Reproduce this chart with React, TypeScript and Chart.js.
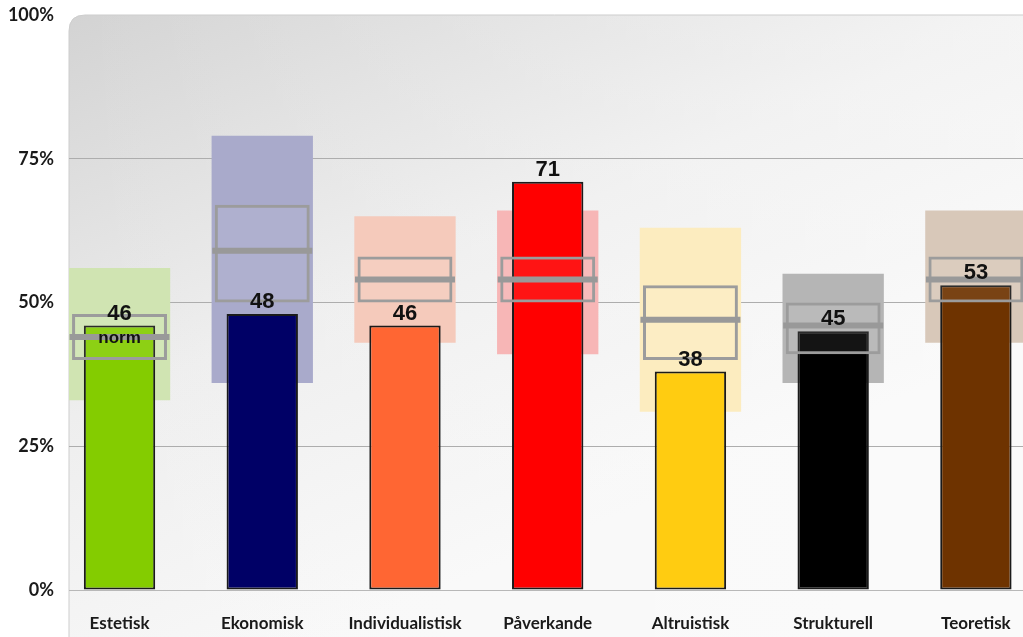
import React, { useEffect, useRef } from "react";
import { Chart, registerables } from "chart.js";

Chart.register(...registerables);

// ---- Data ----
const categories = ["Estetisk", "Ekonomisk", "Individualistisk", "Påverkande", "Altruistisk", "Strukturell", "Teoretisk"];
const scores = [46, 48, 46, 71, 38, 45, 53];
const rangeLow = [33, 36, 43, 41, 31, 36, 43];
const rangeHigh = [56, 79, 65, 66, 63, 55, 66];
const boxLow = [40, 50, 50, 50, 40, 41, 50];
const boxHigh = [48, 67, 58, 58, 53, 50, 58];
const normValues = [44, 59, 54, 54, 47, 46, 54];
const yTickValues = [0, 25, 50, 75, 100];
const normLabel = "norm";

const barColors = ["#84cc00", "#000066", "#ff6633", "#ff0000", "#ffcc11", "#000000", "#6e3300"];
const bandColors = ["#d0e4b2", "#a9aacb", "#f5cabb", "#f7b6b6", "#fcecbf", "#b5b5b5", "#d8c8b9"];

const X_MIN = -0.354;
const X_MAX = 6.33;

const backgroundPlugin = {
  id: "roundedBg",
  beforeDraw(chart: any) {
    const { ctx, chartArea, width, height } = chart;
    const left = chartArea.left;
    const top = chartArea.top;
    const r = 16;
    ctx.save();
    const g = ctx.createLinearGradient(left, top, left + 260, height);
    g.addColorStop(0, "#d3d3d3");
    g.addColorStop(0.55, "#eeeeee");
    g.addColorStop(1, "#f8f8f8");
    ctx.beginPath();
    ctx.moveTo(left + r, top);
    ctx.lineTo(width + 20, top);
    ctx.lineTo(width + 20, height + 20);
    ctx.lineTo(left, height + 20);
    ctx.lineTo(left, top + r);
    ctx.quadraticCurveTo(left, top, left + r, top);
    ctx.closePath();
    ctx.fillStyle = g;
    ctx.fill();
    const h = ctx.createLinearGradient(left, 0, width, 0);
    h.addColorStop(0, "rgba(255,255,255,0)");
    h.addColorStop(1, "rgba(255,255,255,0.35)");
    ctx.fillStyle = h;
    ctx.fill();
    ctx.strokeStyle = "#cdcdcd";
    ctx.lineWidth = 1;
    ctx.stroke();
    ctx.restore();
  },
};

const labelPlugin = {
  id: "valueLabels",
  afterDatasetsDraw(chart: any) {
    const { ctx } = chart;
    const barMeta = chart.getDatasetMeta(2);
    ctx.save();
    ctx.fillStyle = "#111111";
    ctx.textAlign = "center";
    ctx.textBaseline = "alphabetic";
    ctx.font = "bold 22px 'Liberation Sans', Arial, sans-serif";
    barMeta.data.forEach((el: any, i: number) => {
      ctx.fillText(String(scores[i]), el.x, el.y - 6);
    });
    const normMeta = chart.getDatasetMeta(0);
    const p = normMeta.data[0];
    if (p) {
      ctx.font = "bold 17px 'Liberation Sans', Arial, sans-serif";
      ctx.textBaseline = "middle";
      ctx.fillText(normLabel, p.x, p.y + 1);
    }
    ctx.restore();
  },
};

export default function App() {
  const canvasRef = useRef<HTMLCanvasElement | null>(null);

  useEffect(() => {
    if (!canvasRef.current) return;
    const chart = new Chart(canvasRef.current, {
      type: "bar",
      data: {
        datasets: [
          {
            type: "line",
            label: "Norm",
            data: normValues.map((v, i) => ({ x: i, y: v })),
            showLine: false,
            pointStyle: "line",
            pointRadius: 50,
            pointHoverRadius: 50,
            pointBorderWidth: 6,
            pointBorderColor: "#999999",
            pointBackgroundColor: "#999999",
            borderColor: "#999999",
            clip: false,
            order: 0,
          } as any,
          {
            type: "bar",
            label: "Box",
            data: boxLow.map((v, i) => ({ x: i, y: [v, boxHigh[i]] })),
            backgroundColor: "rgba(255,255,255,0.08)",
            borderColor: "#9c9c9c",
            borderWidth: 3,
            borderSkipped: false,
            grouped: false,
            categoryPercentage: 1,
            barPercentage: 0.665,
            order: 1,
          } as any,
          {
            type: "bar",
            label: "Resultat",
            data: scores.map((v, i) => ({ x: i, y: v })),
            backgroundColor: barColors,
            borderColor: "#1a1a1a",
            borderWidth: 2,
            borderSkipped: false,
            grouped: false,
            categoryPercentage: 1,
            barPercentage: 0.5,
            order: 2,
          } as any,
          {
            type: "bar",
            label: "Spann",
            data: rangeLow.map((v, i) => ({ x: i, y: [v, rangeHigh[i]] })),
            backgroundColor: bandColors,
            borderWidth: 0,
            grouped: false,
            categoryPercentage: 1,
            barPercentage: 0.71,
            order: 3,
          } as any,
        ],
      },
      options: {
        animation: false,
        responsive: false,
        maintainAspectRatio: false,
        layout: { autoPadding: false, padding: { top: 15, left: 0, right: 0, bottom: 0 } },
        plugins: {
          legend: { display: false },
          tooltip: { enabled: false },
        },
        events: [],
        scales: {
          x: {
            type: "linear",
            offset: false,
            min: X_MIN,
            max: X_MAX,
            afterBuildTicks(scale: any) {
              scale.ticks = categories.map((_, i) => ({ value: i }));
            },
            afterFit(scale: any) {
              scale.height = 47;
              scale.paddingLeft = 0;
              scale.paddingRight = 0;
            },
            ticks: {
              autoSkip: false,
              maxRotation: 0,
              padding: 23,
              color: "#1a1a1a",
              font: { family: "Lato", weight: "bold", size: 17 },
              callback: (v: any) => categories[Math.round(Number(v))] ?? "",
            },
            grid: { display: false, drawTicks: false, offset: false },
            border: { display: true, color: "#b8b8b8", width: 1 },
          },
          y: {
            type: "linear",
            min: 0,
            max: 100,
            afterBuildTicks(scale: any) {
              scale.ticks = yTickValues.map((v) => ({ value: v }));
            },
            afterFit(scale: any) {
              scale.width = 69;
              scale.paddingTop = 0;
              scale.paddingBottom = 0;
            },
            ticks: {
              padding: 15,
              color: "#1a1a1a",
              font: { family: "Lato", weight: "bold", size: 18 },
              callback: (v: any) => `${v}%`,
            },
            grid: {
              drawTicks: false,
              color: (c: any) => (c.tick && c.tick.value === 100 ? "rgba(0,0,0,0)" : "#adadad"),
              lineWidth: 1,
            },
            border: { display: false },
          },
        },
      },
      plugins: [backgroundPlugin, labelPlugin],
    } as any);
    return () => chart.destroy();
  }, []);

  return (
    <div style={{ position: "fixed", left: 0, top: 0, width: 1023, height: 637, background: "#ffffff", overflow: "hidden" }}>
      <canvas ref={canvasRef} width={1023} height={637} style={{ display: "block", width: 1023, height: 637 }} />
    </div>
  );
}
